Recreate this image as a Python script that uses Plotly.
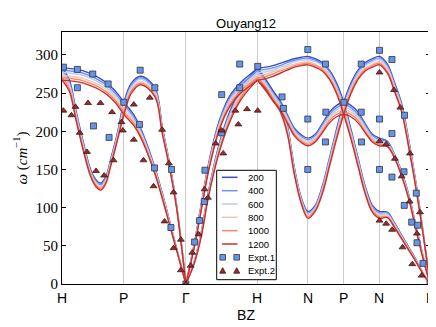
import plotly.graph_objects as go

temps = [200, 400, 600, 800, 1000, 1200]
colors = ['#3b4cc0', '#6f92f3', '#b5cdfa', '#f5c4ac', '#f08b6e', '#cc2f2c']

tick_pos = [0, 0.866, 1.732, 2.732, 3.439, 3.939, 4.439, 5.146]
tick_lab = ['H', 'P', 'Γ', 'H', 'N', 'P', 'N', 'Γ']

# H -> P -> Gamma, band 1 (flat H-P, then transverse P-G)
x_a1 = [0, 0.3, 0.6, 0.75, 0.866, 1.0, 1.1, 1.2, 1.3, 1.4, 1.5, 1.6, 1.732]
a1 = {
    200: [283, 279, 265, 252, 238, 222, 204, 180, 152, 120, 84, 48, 0],
    400: [280, 276, 262, 249, 235, 219, 202, 178, 150, 119, 83, 47, 0],
    600: [277, 273, 259, 246, 232, 216, 199, 176, 149, 117, 82, 47, 0],
    800: [273, 269, 256, 243, 228, 214, 197, 174, 147, 116, 81, 46, 0],
    1000: [270, 266, 253, 240, 225, 211, 194, 172, 146, 114, 80, 46, 0],
    1200: [267, 263, 250, 237, 222, 208, 192, 170, 144, 113, 79, 45, 0],
}

# H -> P -> Gamma, band 2 (dip H-P, then longitudinal P-G)
x_a2 = [0, 0.1, 0.2, 0.3, 0.4, 0.47, 0.54, 0.61, 0.68, 0.78, 0.866, 0.97, 1.1, 1.3, 1.4, 1.5, 1.6, 1.732]
a2 = {
    200: [283, 268, 225, 185, 150, 137, 132, 140, 163, 200, 238, 263, 272, 257, 207, 160, 105, 0],
    400: [280, 265, 223, 183, 148, 135, 130, 138, 161, 198, 235, 260, 270, 255, 205, 159, 104, 0],
    600: [277, 262, 220, 181, 146, 133, 128, 136, 159, 196, 232, 258, 268, 252, 203, 158, 103, 0],
    800: [273, 259, 218, 178, 145, 132, 127, 135, 158, 194, 228, 255, 265, 250, 202, 156, 103, 0],
    1000: [270, 256, 215, 176, 143, 130, 125, 133, 156, 192, 225, 253, 263, 247, 200, 155, 102, 0],
    1200: [267, 253, 213, 174, 141, 128, 123, 131, 154, 190, 222, 250, 261, 245, 198, 154, 101, 0],
}

# Gamma -> H
x_gh = [1.732, 1.85, 1.95, 2.05, 2.2, 2.35, 2.5, 2.65, 2.732]
gh_l = {
    200: [0, 53, 106, 158, 214, 247, 264, 276, 283],
    400: [0, 52, 104, 156, 212, 244, 261, 273, 280],
    600: [0, 51, 103, 154, 209, 241, 258, 270, 277],
    800: [0, 50, 101, 152, 207, 239, 256, 267, 273],
    1000: [0, 49, 100, 150, 204, 236, 253, 264, 270],
    1200: [0, 48, 98, 148, 202, 233, 250, 261, 267],
}
gh_t = {
    200: [0, 30, 69, 122, 184, 227, 256, 274, 283],
    400: [0, 29, 68, 121, 182, 224, 253, 271, 280],
    600: [0, 29, 67, 119, 180, 222, 250, 268, 277],
    800: [0, 28, 66, 118, 177, 219, 247, 265, 273],
    1000: [0, 28, 65, 116, 175, 216, 244, 262, 270],
    1200: [0, 27, 63, 115, 173, 213, 241, 259, 267],
}

# H -> N -> P -> N -> Gamma
x_hn = [2.732, 2.85, 2.95, 3.05, 3.15, 3.25, 3.35, 3.439, 3.54, 3.64, 3.74, 3.84, 3.939,
        4.04, 4.14, 4.24, 4.34, 4.439, 4.55, 4.65, 4.75, 4.85, 4.95, 5.05, 5.146]
b1 = {
    200: [283, 284, 286, 289, 292, 295, 297, 298, 295, 290, 280, 263, 238, 203, 165, 128, 103, 95, 94, 80, 64, 48, 32, 14, 0],
    400: [280, 281, 283, 286, 290, 293, 295, 296, 293, 288, 278, 260, 235, 200, 163, 126, 101, 93, 93, 79, 63, 47, 31, 14, 0],
    600: [277, 278, 280, 284, 287, 291, 293, 294, 291, 286, 275, 257, 232, 198, 161, 124, 99, 91, 91, 78, 62, 46, 31, 14, 0],
    800: [273, 275, 278, 281, 285, 288, 290, 291, 288, 283, 273, 255, 228, 195, 158, 122, 98, 90, 90, 76, 61, 46, 30, 13, 0],
    1000: [270, 272, 275, 279, 282, 286, 288, 289, 286, 281, 270, 252, 225, 193, 156, 120, 96, 88, 88, 75, 60, 45, 30, 13, 0],
    1200: [267, 269, 272, 276, 280, 284, 286, 287, 284, 279, 268, 249, 222, 190, 154, 118, 94, 86, 87, 74, 59, 44, 29, 13, 0],
}
b2 = {
    200: [283, 268, 253, 240, 222, 204, 195, 191, 196, 210, 225, 234, 238, 234, 225, 210, 196, 191, 187, 170, 147, 117, 76, 36, 0],
    400: [280, 265, 250, 238, 220, 202, 193, 189, 194, 208, 222, 231, 235, 231, 222, 208, 194, 189, 186, 169, 146, 116, 75, 35, 0],
    600: [277, 263, 248, 235, 218, 200, 191, 187, 192, 205, 219, 228, 232, 228, 219, 205, 192, 187, 184, 168, 145, 115, 74, 35, 0],
    800: [273, 260, 245, 233, 215, 198, 189, 185, 190, 203, 217, 225, 228, 225, 217, 203, 190, 185, 183, 167, 143, 113, 73, 34, 0],
    1000: [270, 258, 243, 230, 213, 196, 187, 183, 188, 200, 214, 222, 225, 222, 214, 200, 188, 183, 181, 166, 142, 112, 72, 34, 0],
    1200: [267, 255, 240, 228, 211, 194, 185, 181, 186, 198, 211, 219, 222, 219, 211, 198, 186, 181, 180, 165, 141, 111, 71, 33, 0],
}
b3 = {
    200: [283, 266, 253, 238, 208, 152, 112, 95, 103, 128, 165, 203, 238, 263, 280, 290, 295, 298, 288, 264, 236, 188, 132, 68, 0],
    400: [280, 263, 250, 236, 206, 150, 110, 93, 101, 126, 163, 200, 235, 260, 278, 288, 293, 296, 286, 262, 234, 186, 131, 67, 0],
    600: [277, 261, 248, 233, 204, 148, 109, 91, 100, 124, 161, 198, 232, 257, 275, 286, 291, 294, 283, 259, 232, 184, 129, 67, 0],
    800: [273, 258, 245, 231, 201, 147, 107, 90, 98, 122, 158, 195, 228, 255, 273, 283, 288, 291, 281, 257, 229, 182, 128, 66, 0],
    1000: [270, 256, 243, 228, 199, 145, 106, 88, 97, 120, 156, 193, 225, 252, 270, 281, 286, 289, 278, 254, 227, 180, 126, 66, 0],
    1200: [267, 253, 240, 226, 197, 143, 104, 86, 95, 118, 154, 190, 222, 249, 268, 279, 284, 287, 276, 252, 225, 178, 125, 65, 0],
}

# experiments
expt1_x = [0.02, 0.215, 0.215, 0.43, 0.44, 0.645, 0.658, 0.864, 1.093, 1.084, 1.298, 1.294, 1.532, 1.523, 1.732,
           1.854, 1.924, 1.99, 1.999, 2.233, 2.233, 2.485, 2.485, 2.737, 3.077, 3.096, 3.437, 3.437, 3.437,
           3.684, 3.69, 3.684, 3.942, 4.184, 4.184, 4.188, 4.44, 4.44, 4.44, 4.614, 4.614, 4.614,
           4.79, 4.782, 4.786, 4.954, 4.89, 4.973, 4.964, 5.048, 5.146]
expt1_y = [284, 281, 257, 275, 207, 262, 192, 238, 280, 209, 257, 152, 150, 74, 0,
           55, 83, 108, 149, 198, 248, 257, 288, 285, 245, 230, 307, 216, 150,
           288, 225, 186, 238, 288, 225, 186, 306, 216, 150, 294, 197, 140,
           221, 147, 103, 119, 81, 77, 54, 27, 0]
expt2_x = [0.02, 0.132, 0.188, 0.248, 0.364, 0.35, 0.476, 0.538, 0.589, 0.70, 0.72, 0.832, 0.85, 1.004, 1.004,
           1.14, 1.228, 1.28, 1.40, 1.434, 1.495, 1.56, 1.56, 1.662, 1.662, 1.732,
           1.799, 1.822, 1.91, 1.994, 2.04, 2.149, 2.232, 2.255, 2.424, 2.466, 2.587, 2.737,
           4.44, 4.642, 4.731, 4.866, 5.006, 4.44, 4.533, 4.655, 4.749, 4.861, 4.964,
           4.44, 4.533, 4.617, 4.762, 4.898, 5.029]
expt2_y = [227, 221, 232, 198, 237, 173, 148, 237, 142, 225, 162, 212, 201, 235, 189,
           162, 244, 128, 202, 82, 158, 120, 47, 58, 18, 0,
           24, 41, 65, 124, 113, 184, 201, 171, 227, 209, 229, 227,
           277, 254, 231, 171, 94, 187, 183, 164, 141, 108, 66,
           83, 79, 71, 48, 26, 11]

legend_labels = ['200', '400', '600', '800', '1000', '1200', 'Expt.1', 'Expt.2']

sq_color = '#6495ed'
tri_color = '#b22222'
sans = 'Liberation Sans, Arial'

fig = go.Figure()

for t, c in zip(temps, colors):
    segs = [(x_a1, a1[t]), (x_a2, a2[t]), (x_gh, gh_l[t]), (x_gh, gh_t[t]),
            (x_hn, b1[t]), (x_hn, b2[t]), (x_hn, b3[t])]
    for xs, ys in segs:
        fig.add_trace(go.Scatter(
            x=xs, y=ys, mode='lines',
            line=dict(color=c, width=1.4, shape='spline'),
            name=str(t), showlegend=False
        ))

fig.add_trace(go.Scatter(
    x=expt1_x, y=expt1_y, mode='markers', name='Expt.1', showlegend=False,
    marker=dict(symbol='square', size=6, color=sq_color, line=dict(color='#333333', width=0.8))
))
fig.add_trace(go.Scatter(
    x=expt2_x, y=expt2_y, mode='markers', name='Expt.2', showlegend=False,
    marker=dict(symbol='triangle-up', size=6, color=tri_color, line=dict(color='#222222', width=0.8))
))

# hand-made legend box (matplotlib style, compact rows)
W, H = 368.0, 252.0   # plot area in px


def px(x):
    return (x - 54) / W


def py(y):
    return (276 - y) / H


shapes = [dict(type='rect', xref='paper', yref='paper', layer='above',
               x0=px(208.7), x1=px(268.3), y0=py(271.7), y1=py(162.3),
               line=dict(color='black', width=1), fillcolor='white')]
annotations = []
rows = [169.3, 182.7, 196.0, 209.3, 222.7, 236.0, 249.3, 262.7]
for i, lab in enumerate(legend_labels):
    ry = rows[i]
    if i < 6:
        shapes.append(dict(type='line', xref='paper', yref='paper', layer='above',
                           x0=px(214), x1=px(229.5), y0=py(ry), y1=py(ry),
                           line=dict(color=colors[i], width=1.5)))
    else:
        for mx in (214.7, 228.7):
            if i == 6:
                shapes.append(dict(type='rect', xref='paper', yref='paper', layer='above',
                                   x0=px(mx - 2.8), x1=px(mx + 2.8), y0=py(ry + 2.8), y1=py(ry - 2.8),
                                   line=dict(color='#333333', width=0.8), fillcolor=sq_color))
            else:
                path = 'M {:.4f} {:.4f} L {:.4f} {:.4f} L {:.4f} {:.4f} Z'.format(
                    px(mx - 3), py(ry + 2.5), px(mx + 3), py(ry + 2.5), px(mx), py(ry - 3))
                shapes.append(dict(type='path', xref='paper', yref='paper', layer='above',
                                   path=path, line=dict(color='#222222', width=0.8), fillcolor=tri_color))
    annotations.append(dict(xref='paper', yref='paper', x=px(237.5), y=py(ry),
                            xanchor='left', yanchor='middle', text=lab, showarrow=False,
                            font=dict(family=sans, size=9.5, color='black')))

# high-symmetry labels under the axis, written as text at the tick positions
for xv, lab in zip(tick_pos, tick_lab):
    annotations.append(dict(xref='x', yref='paper', x=xv, y=0, xanchor='center', yanchor='top',
                            yshift=-4, text=lab, showarrow=False,
                            font=dict(family=sans, size=14, color='black')))

fig.update_layout(
    width=436, height=327,
    margin=dict(l=54, r=14, t=24, b=51),
    paper_bgcolor='white', plot_bgcolor='white',
    title=dict(text='Ouyang12', x=0.546, xanchor='center', xref='container',
               y=1 - 15 / 327, yanchor='middle', yref='container',
               font=dict(family=sans, size=13, color='black')),
    showlegend=False,
    shapes=shapes,
    annotations=annotations,
)
fig.update_xaxes(
    range=[0, 5.146], tickvals=tick_pos, showticklabels=False,
    showgrid=True, gridcolor='#cccccc', gridwidth=1,
    showline=True, linecolor='black', linewidth=1, mirror=True,
    ticks='', zeroline=False, automargin=False,
    title=dict(text='BZ', font=dict(family=sans, size=14, color='black'), standoff=26),
)
fig.update_yaxes(
    range=[0, 330], tickvals=[0, 50, 100, 150, 200, 250, 300],
    showgrid=False, zeroline=False, automargin=False,
    showline=True, linecolor='black', linewidth=1, mirror='ticks',
    ticks='inside', ticklen=4, tickcolor='black',
    tickfont=dict(family='Liberation Serif, serif', size=15, color='black'),
    title=dict(text='<i>ω</i> (<i>cm</i><sup>−1</sup>)',
               font=dict(family='Liberation Serif, serif', size=15, color='black'), standoff=4),
)

fig.write_html("out.html")
